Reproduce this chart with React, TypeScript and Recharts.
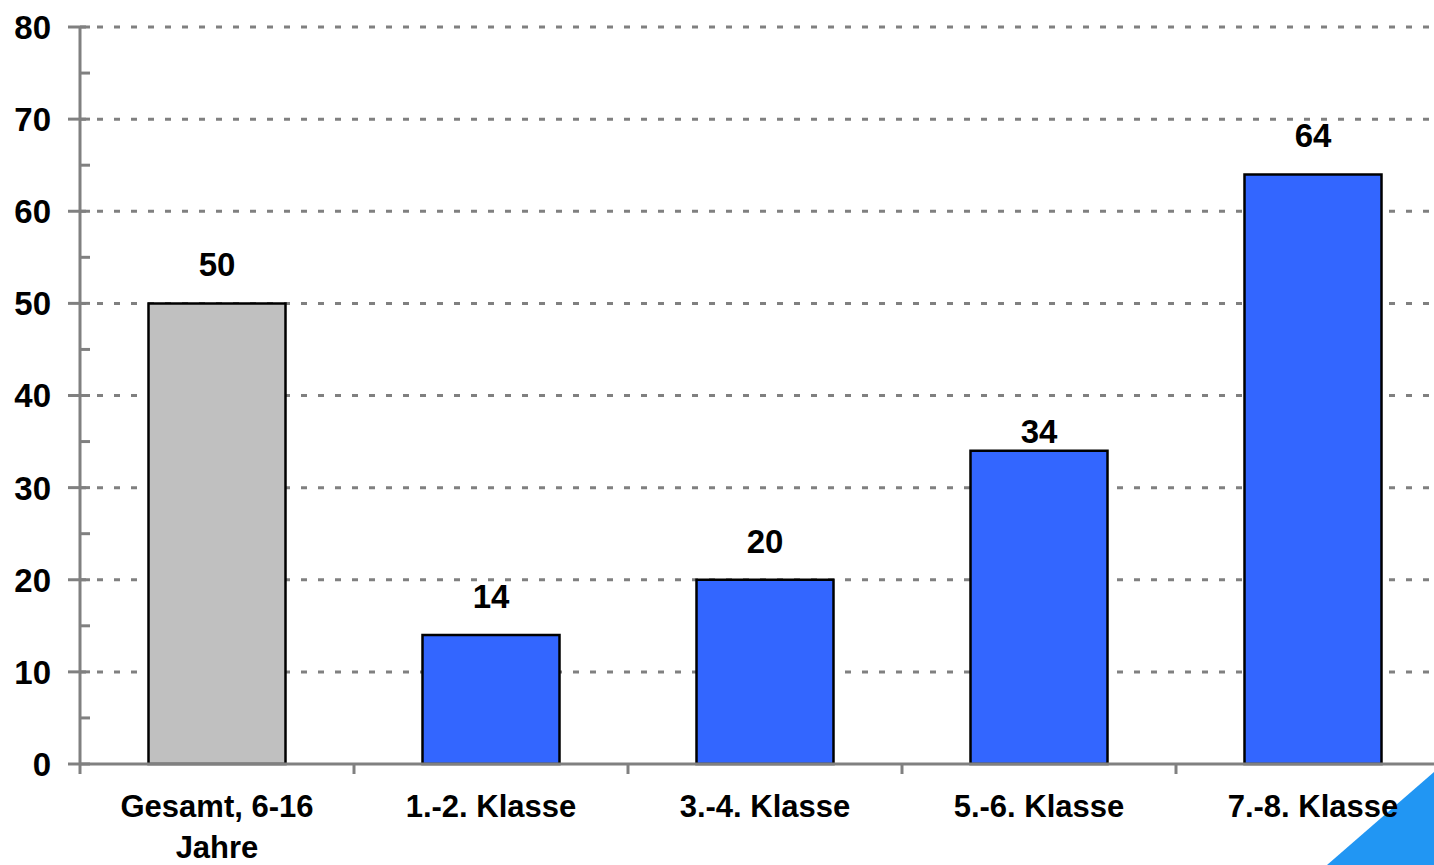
import { Bar, BarChart, CartesianGrid, Cell, LabelList, XAxis, YAxis } from 'recharts'

const categories = ['Gesamt, 6-16 Jahre', '1.-2. Klasse', '3.-4. Klasse', '5.-6. Klasse', '7.-8. Klasse']
const values = [50, 14, 20, 34, 64]
const barColors = ['#C0C0C0', '#3366FF', '#3366FF', '#3366FF', '#3366FF']
const yTicks = [0, 5, 10, 15, 20, 25, 30, 35, 40, 45, 50, 55, 60, 65, 70, 75, 80]
const gridValues = [10, 20, 30, 40, 50, 60, 70, 80]

const data = categories.map((name, i) => ({ name, value: values[i] }))

const FONT = '"Liberation Sans", Arial, sans-serif'
const AXIS = '#808080'

// greedy word wrap by character count
function wrap(label: string, maxChars = 14) {
  const lines: string[] = []
  let cur = ''
  for (const w of label.split(' ')) {
    const next = cur ? cur + ' ' + w : w
    if (next.length > maxChars && cur) {
      lines.push(cur)
      cur = w
    } else {
      cur = next
    }
  }
  if (cur) lines.push(cur)
  return lines
}

function YTick(props: any) {
  const { x, y, payload } = props
  const major = payload.value % 10 === 0
  return (
    <g>
      <line x1={major ? x - 12 : x} x2={x + 10} y1={y} y2={y} stroke={AXIS} strokeWidth={3} />
      {major && (
        <text x={x - 29} y={y} dy='0.36em' textAnchor='end' fontFamily={FONT} fontWeight='bold' fontSize={33} fill='#000'>
          {payload.value}
        </text>
      )}
    </g>
  )
}

function XTick(props: any) {
  const { x, y, payload, index } = props
  const half = 137
  const lines = wrap(String(payload.value))
  return (
    <g>
      <line x1={x - half} x2={x - half} y1={y} y2={y + 10} stroke={AXIS} strokeWidth={3} />
      {index === categories.length - 1 && (
        <line x1={x + half} x2={x + half} y1={y} y2={y + 10} stroke={AXIS} strokeWidth={3} />
      )}
      <text x={x} y={y + 53} textAnchor='middle' fontFamily={FONT} fontWeight='bold' fontSize={31} fill='#000'>
        {lines.map((l, i) => (
          <tspan key={i} x={x} dy={i === 0 ? 0 : 41}>
            {l}
          </tspan>
        ))}
      </text>
    </g>
  )
}

// value label above bar; the 34 label sits closer to its bar in the original
function ValueLabel(props: any) {
  const { x, y, width, value, index } = props
  const gap = index === 3 ? 8 : 27
  return (
    <text x={x + width / 2} y={y - gap} textAnchor='middle' fontFamily={FONT} fontWeight='bold' fontSize={33} fill='#000'>
      {value}
    </text>
  )
}

export default function App() {
  return (
    <div style={{ position: 'absolute', left: 0, top: 0, width: 1434, height: 865, overflow: 'hidden', background: '#fff' }}>
      <div
        style={{
          position: 'absolute',
          left: 0,
          top: 0,
          width: 1434,
          height: 865,
          background: '#2196F3',
          clipPath: 'polygon(1434px 772px, 1434px 865px, 1327px 865px)',
        }}
      />
      <div style={{ position: 'absolute', left: 0, top: 0 }}>
        <BarChart
          width={1470}
          height={865}
          data={data}
          margin={{ top: 27, right: 20, left: 0, bottom: 0 }}
          barCategoryGap='25%'
        >
          <CartesianGrid
            vertical={false}
            horizontalValues={gridValues}
            stroke={AXIS}
            strokeWidth={3}
            strokeDasharray='6 11'
          />
          <XAxis
            dataKey='name'
            height={101}
            interval={0}
            tickSize={0}
            tickMargin={0}
            tickLine={false}
            axisLine={{ stroke: AXIS, strokeWidth: 3 }}
            tick={<XTick />}
          />
          <YAxis
            width={80}
            domain={[0, 80]}
            ticks={yTicks}
            interval={0}
            tickSize={0}
            tickMargin={0}
            tickLine={false}
            axisLine={{ stroke: AXIS, strokeWidth: 3 }}
            tick={<YTick />}
          />
          <Bar dataKey='value' stroke='#000' strokeWidth={2.5} isAnimationActive={false}>
            {data.map((d, i) => (
              <Cell key={d.name} fill={barColors[i]} />
            ))}
            <LabelList dataKey='value' content={<ValueLabel />} />
          </Bar>
        </BarChart>
      </div>
    </div>
  )
}
